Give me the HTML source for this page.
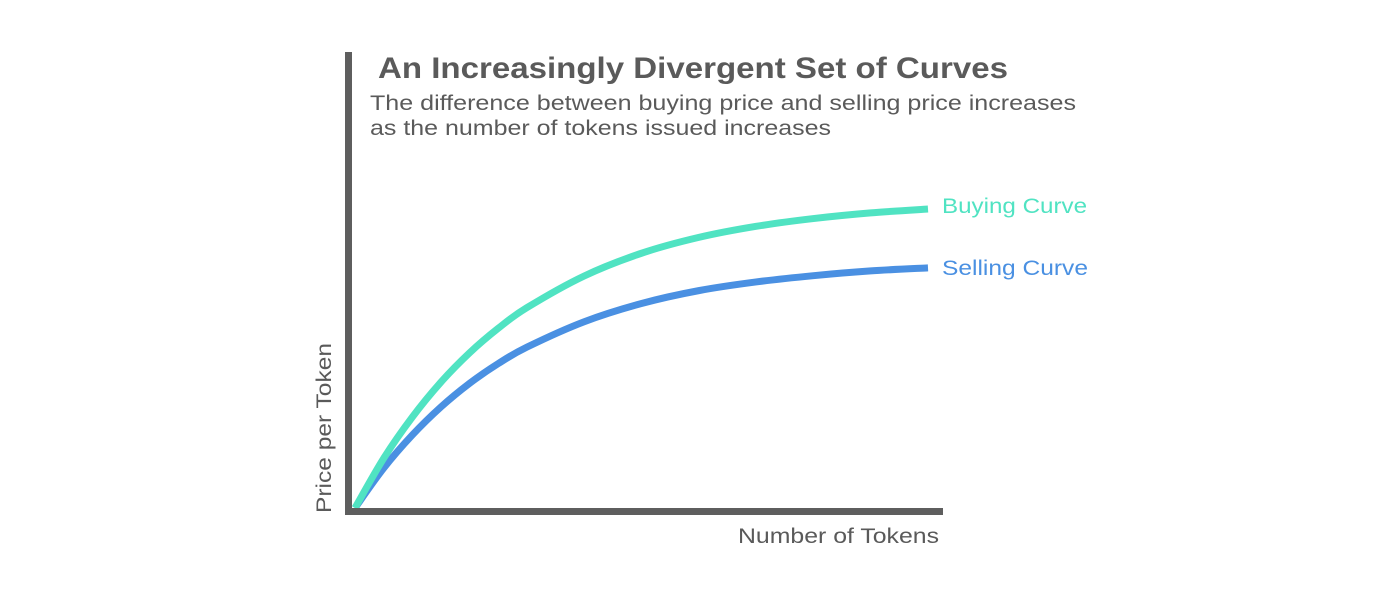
<!DOCTYPE html>
<html><head><meta charset="utf-8"><style>
html,body{margin:0;padding:0;background:#fff;}
svg{display:block;font-family:"Liberation Sans",sans-serif;}
</style></head><body>
<svg id="chart" width="1400" height="600" viewBox="0 0 1400 600">
<text x="378" y="78" font-size="30" font-weight="bold" fill="#5a5a5a" textLength="630" lengthAdjust="spacingAndGlyphs">An Increasingly Divergent Set of Curves</text>
<text x="370" y="110" font-size="21" fill="#5a5a5a" textLength="706" lengthAdjust="spacingAndGlyphs">The difference between buying price and selling price increases</text>
<text x="370" y="135" font-size="21" fill="#5a5a5a" textLength="461" lengthAdjust="spacingAndGlyphs">as the number of tokens issued increases</text>
<g id="series"></g>
<rect x="345" y="52" width="7" height="463" fill="#5e5e5e"/>
<rect x="345" y="508" width="598" height="7" fill="#5e5e5e"/>
<text x="939" y="543" font-size="21" fill="#5a5a5a" text-anchor="end" textLength="201" lengthAdjust="spacingAndGlyphs">Number of Tokens</text>
<text transform="translate(331,513) rotate(-90)" x="0" y="0" font-size="21" fill="#5a5a5a" textLength="170" lengthAdjust="spacingAndGlyphs">Price per Token</text>
<text x="942" y="213" font-size="21" fill="#50e3c2" textLength="145" lengthAdjust="spacingAndGlyphs">Buying Curve</text>
<text x="942" y="275" font-size="21" fill="#4a90e2" textLength="146" lengthAdjust="spacingAndGlyphs">Selling Curve</text>
</svg>
<script>
const tokens = [0, 5, 10, 15, 20, 25, 30, 40, 50, 60, 70, 80, 90, 100];
const buyingPrice = [0, 16.6, 30.4, 42.1, 51.9, 60.1, 67.0, 77.6, 85.2, 90.5, 94.2, 96.8, 98.7, 100];
const sellingPrice = [0, 13.3, 24.4, 33.8, 41.7, 48.3, 53.8, 62.3, 68.4, 72.7, 75.6, 77.7, 79.3, 80.3];
function xScale(v){return 355 + v/100*(928-355);}
function yScale(v){return 508 - v/100*(508-209);}
function pathFor(ys){
  const pts = tokens.map((t,i)=>[xScale(t), yScale(ys[i])]);
  let d = 'M'+pts[0][0]+','+pts[0][1];
  for(let i=0;i<pts.length-1;i++){
    const p0=pts[Math.max(i-1,0)],p1=pts[i],p2=pts[i+1],p3=pts[Math.min(i+2,pts.length-1)];
    const c1=[p1[0]+(p2[0]-p0[0])/6,p1[1]+(p2[1]-p0[1])/6];
    const c2=[p2[0]-(p3[0]-p1[0])/6,p2[1]-(p3[1]-p1[1])/6];
    d+=' C'+c1[0]+','+c1[1]+' '+c2[0]+','+c2[1]+' '+p2[0]+','+p2[1];
  }
  return d;
}
const g = document.getElementById('series');
const NS='http://www.w3.org/2000/svg';
const sell = document.createElementNS(NS,'path');
sell.setAttribute('d', pathFor(sellingPrice));
sell.setAttribute('fill','none');
sell.setAttribute('stroke','#4a90e2');
sell.setAttribute('stroke-width','7');


g.appendChild(sell);
const buy = document.createElementNS(NS,'path');
buy.setAttribute('d', pathFor(buyingPrice));
buy.setAttribute('fill','none');
buy.setAttribute('stroke','#50e3c2');
buy.setAttribute('stroke-width','7');


g.appendChild(buy);
</script>
</body></html>
